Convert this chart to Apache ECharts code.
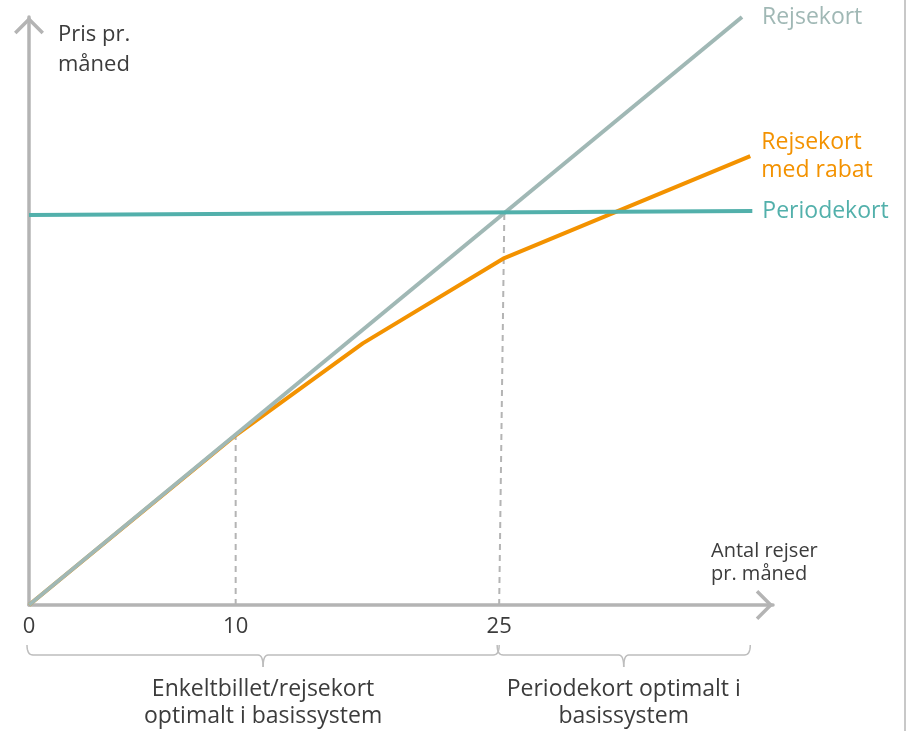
<!DOCTYPE html>
<html>
<head>
<meta charset="utf-8">
<script src="https://cdn.jsdelivr.net/npm/echarts@6/dist/echarts.min.js"></script>
<style>
  html, body { margin: 0; padding: 0; background: #fff; }
  #chart { width: 904px; height: 731px; border-right: 2px solid #c8c8c8; }
</style>
</head>
<body>
<div id="chart"></div>
<script>
// schematic x position of each tick and the label printed under it
const xTickPos = [0, 10, 22.75]
const xTickLabels = ['0', '10', '25']

const seriesNames = ['Rejsekort', 'Rejsekort\nmed rabat', 'Periodekort']
const rejsekort = [[0, 0], [34.5, 30]]
const rejsekortRabat = [[0, 0], [10, 8.66], [16.15, 13.35], [23.0, 17.7], [34.9, 22.9]]
const periodekort = [[0, 19.9], [35, 20.1]]

// dashed guide lines down to the x axis
const guide10 = [[10, 0], [10, 8.7]]
const guide25 = [[22.75, 0], [23.0, 20.0]]

// brackets under the axis
const ranges = [
  { from: 0, to: 22.75, label: 'Enkeltbillet/rejsekort\noptimalt i basissystem' },
  { from: 22.75, to: 34.9, label: 'Periodekort optimalt i\nbasissystem' }
]

const FONT = '"Open Sans", "DejaVu Sans", sans-serif'
const TEXT = '#3c3c3c'
const AXIS = '#b4b4b4'
const chevron = 'path://M15,0 L30,15 L27.5,17.5 L15,5 L2.5,17.5 L0,15 Z'

const chart = echarts.init(document.getElementById('chart'))

function guideSeries(data) {
  return {
    type: 'line',
    data: data,
    showSymbol: false,
    silent: true,
    z: 1,
    lineStyle: { color: AXIS, width: 2, type: [6, 5] }
  }
}

function curveSeries(name, data, color, distance, z) {
  return {
    name: name,
    type: 'line',
    data: data,
    showSymbol: false,
    z: z,
    lineStyle: { color: color, width: 4, cap: 'butt' },
    endLabel: {
      show: true,
      formatter: '{a}',
      distance: distance,
      color: color,
      fontFamily: FONT,
      fontSize: 23,
      lineHeight: 28,
      align: 'left'
    }
  }
}

chart.setOption({
  animation: false,
  textStyle: { fontFamily: FONT },
  title: [
    {
      text: 'Pris pr.\nmåned',
      left: 58,
      top: 20,
      padding: 0,
      textStyle: { fontFamily: FONT, fontSize: 22, lineHeight: 30, fontWeight: 'normal', color: TEXT }
    },
    {
      text: 'Antal rejser\npr. måned',
      left: 711,
      top: 540,
      padding: 0,
      textStyle: { fontFamily: FONT, fontSize: 20, lineHeight: 23, fontWeight: 'normal', color: TEXT }
    }
  ],
  grid: { left: 29, right: 131, top: 17, bottom: 126, containLabel: false },
  xAxis: {
    type: 'value',
    min: 0,
    max: 36,
    axisLine: {
      lineStyle: { color: AXIS, width: 3.5 },
      symbol: ['none', chevron],
      symbolSize: [30, 17.5],
      symbolOffset: [0, -8.5]
    },
    axisTick: { show: false },
    splitLine: { show: false },
    axisLabel: {
      customValues: xTickPos,
      formatter: v => xTickLabels[xTickPos.indexOf(v)] ?? '',
      color: TEXT,
      fontFamily: FONT,
      fontSize: 22,
      margin: 11
    }
  },
  yAxis: {
    type: 'value',
    min: 0,
    max: 30,
    axisLine: {
      show: true,
      lineStyle: { color: AXIS, width: 3.5 },
      symbol: ['none', chevron],
      symbolSize: [30, 17.5],
      symbolOffset: [0, -8.5]
    },
    axisTick: { show: false },
    splitLine: { show: false },
    axisLabel: { show: false }
  },
  series: [
    guideSeries(guide10),
    guideSeries(guide25),
    curveSeries(seriesNames[1], rejsekortRabat, '#f39200', 11, 3),
    curveSeries(seriesNames[0], rejsekort, '#a0b8b5', 20, 4),
    curveSeries(seriesNames[2], periodekort, '#52b0ab', 10, 5)
  ]
})

// sample a quadratic curve into polyline points
function quad(p0, c, p1, steps) {
  const pts = []
  for (let i = 0; i <= steps; i++) {
    const t = i / steps
    const u = 1 - t
    pts.push([
      u * u * p0[0] + 2 * u * t * c[0] + t * t * p1[0],
      u * u * p0[1] + 2 * u * t * c[1] + t * t * p1[1]
    ])
  }
  return pts
}

// brackets and their captions, placed from the axis scale
const graphics = []
ranges.forEach(r => {
  const a = chart.convertToPixel({ gridIndex: 0 }, [r.from, 0])
  const b = chart.convertToPixel({ gridIndex: 0 }, [r.to, 0])
  const x0 = a[0] - 2
  const x1 = b[0]
  const mid = (x0 + x1) / 2
  const y = a[1] + 50
  const left = quad([x0, y - 10], [x0, y], [x0 + 6, y], 8)
    .concat(quad([mid - 5, y], [mid, y], [mid, y + 12], 8))
  const right = quad([mid, y + 12], [mid, y], [mid + 5, y], 8)
    .concat(quad([x1 - 6, y], [x1, y], [x1, y - 10], 8))
  ;[left, right].forEach(pts => {
    graphics.push({
      type: 'polyline',
      shape: { points: pts },
      style: { fill: null, stroke: '#bdbdbd', lineWidth: 1.5 },
      silent: true
    })
  })
  graphics.push({
    type: 'text',
    style: {
      text: r.label,
      x: mid,
      y: y + 21,
      align: 'center',
      verticalAlign: 'top',
      fontFamily: FONT,
      fontSize: 23,
      lineHeight: 27,
      fill: TEXT
    },
    silent: true
  })
})
chart.setOption({ graphic: graphics })
</script>
</body>
</html>
